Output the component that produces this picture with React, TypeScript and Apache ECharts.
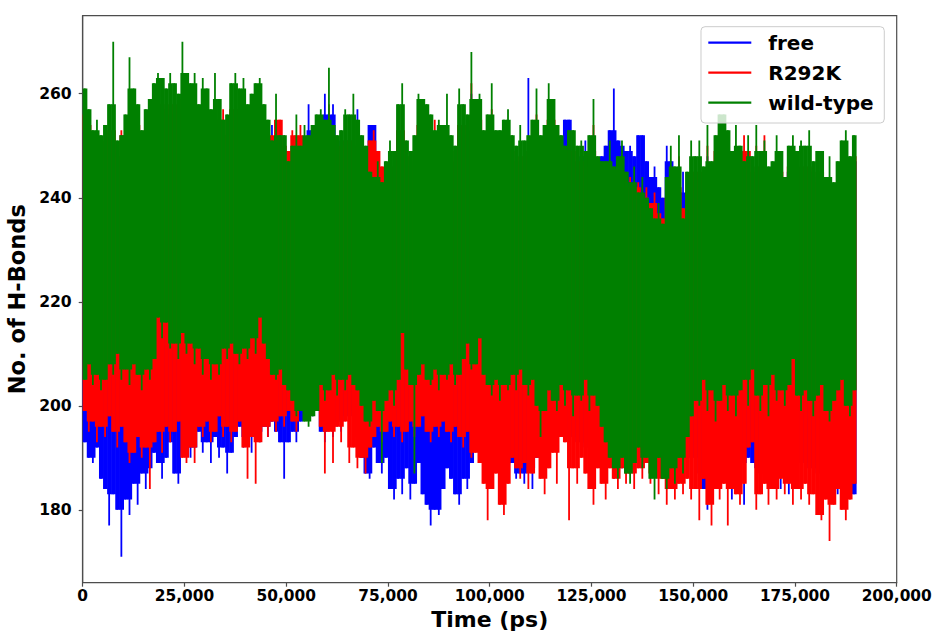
import React, { useEffect, useRef } from 'react';
import * as echarts from 'echarts';

// Sampling step of the readings (ps): one low/high reading per step
const TIME_STEP = 1000;
const xTickMax = 200000;
const xTickStep = 25000;
const yTicks = [180, 200, 220, 240, 260];
const seriesNames = ['free', 'R292K', 'wild-type'];
const seriesColors = ['#0000ff', '#ff0000', '#008000'];

// free: upper / lower envelope per 1000 ps
const freeHigh = [
  253,250,247,249,246,248,251,254,247,248,
  249,254,255,252,248,251,253,256,257,256,
  255,257,256,254,258,257,255,257,252,256,
  254,251,256,253,252,250,255,257,254,256,
  252,254,256,256,252,249,254,250,249,247,
  245,247,249,248,250,258,253,252,254,260,
  256,258,251,249,252,251,249,257,247,246,
  254,254,244,241,242,246,244,251,255,246,
  244,247,253,252,251,250,251,250,248,253,
  247,245,254,252,251,260,253,254,248,250,
  255,248,247,250,251,247,245,249,246,263,
  249,254,247,249,255,253,249,246,255,255,
  247,246,248,251,247,252,244,248,250,253,
  261,251,250,249,250,248,252,252,247,244,
  246,242,240,250,247,244,241,245,240,246,
  243,246,241,248,242,247,250,251,248,244,
  248,245,242,247,243,249,244,246,241,242,
  247,244,239,245,246,244,246,245,248,242,
  244,246,239,243,238,242,246,248,243,247,
];
const freeLow = [
  193,190,189,192,186,184,177,183,180,171,
  182,179,185,181,187,184,188,191,189,186,
  190,193,187,185,191,194,190,192,195,191,
  193,189,194,190,192,187,191,194,196,192,
  194,191,195,193,196,194,197,195,193,186,
  193,195,193,197,199,200,198,199,195,193,
  196,194,197,195,198,196,199,194,190,187,
  186,192,189,187,190,184,182,186,183,188,
  182,185,189,183,181,177,180,179,184,188,
  186,183,181,186,184,189,192,195,193,196,
  194,195,193,196,194,189,186,187,185,188,
  184,190,193,189,192,194,191,196,194,192,
  194,191,193,190,192,194,190,192,187,189,
  186,190,188,191,190,192,189,191,193,190,
  192,189,191,193,190,192,189,191,190,188,
  190,187,184,180,186,189,187,190,188,182,
  187,189,181,190,189,188,185,187,189,192,
  188,184,187,183,188,190,187,189,186,188,
  185,187,189,186,185,183,186,189,187,183,
];

// R292K
const r292kHigh = [
  256,254,250,252,249,251,253,255,248,253,
  252,255,257,254,250,253,255,258,259,258,
  257,259,258,256,261,259,258,260,255,258,
  256,253,258,255,257,252,257,259,257,258,
  254,256,258,257,254,251,252,255,255,250,
  249,253,252,254,251,249,250,252,253,251,
  258,252,249,250,253,251,250,253,248,247,
  251,253,249,246,244,248,246,253,256,248,
  246,249,255,254,253,252,255,252,250,254,
  249,247,256,254,252,262,255,256,250,252,
  257,250,249,251,253,249,247,250,248,249,
  251,256,249,250,257,255,250,248,247,249,
  249,247,248,246,249,254,245,244,243,247,
  243,245,247,242,244,242,243,240,242,239,
  241,237,236,240,246,242,248,238,241,247,
  245,247,243,250,244,249,252,252,249,246,
  250,247,252,249,245,250,246,252,243,244,
  248,245,241,246,248,245,247,246,249,243,
  245,245,241,244,240,243,247,249,244,248,
];
const r292kLow = [
  199,195,197,193,196,194,198,195,192,196,
  193,189,191,194,190,192,184,193,195,191,
  196,193,195,197,190,189,192,189,196,194,
  197,193,195,198,194,196,193,195,197,192,
  186,194,185,193,196,194,197,195,198,196,
  199,197,195,199,200,201,199,200,196,187,
  195,189,196,193,197,189,192,188,190,187,
  192,194,196,193,195,197,194,196,193,195,
  197,194,196,198,195,193,196,194,197,195,
  193,196,194,192,195,190,191,189,185,178,
  184,187,181,179,185,190,188,186,189,184,
  187,190,186,183,188,191,185,194,193,178,
  188,185,190,187,184,181,188,185,182,188,
  186,184,188,185,187,184,188,186,189,185,
  187,183,186,181,184,182,185,183,186,182,
  184,178,186,181,177,184,182,185,177,184,
  183,181,185,192,193,180,183,185,181,184,
  182,186,183,185,181,184,182,185,181,183,
  179,178,182,174,181,184,180,178,182,185,
];

// wild-type
const wildHigh = [
  261,257,253,255,252,254,258,270,251,252,
  256,267,261,258,253,257,259,262,264,263,
  261,264,262,260,270,264,262,264,258,263,
  261,257,264,259,255,256,262,264,261,263,
  258,260,262,263,258,255,251,260,252,252,
  247,250,256,250,254,252,254,256,257,255,
  265,254,252,253,257,256,260,255,252,250,
  245,244,247,243,247,251,249,258,262,251,
  249,252,260,259,258,256,253,255,254,260,
  252,250,261,258,256,268,259,260,253,256,
  262,253,253,255,257,252,250,254,251,252,
  255,261,252,254,262,259,254,252,250,253,
  253,250,251,249,252,259,248,247,247,251,
  246,248,251,245,243,246,241,244,240,238,
  236,239,235,244,250,246,252,236,245,251,
  248,251,246,254,247,252,256,256,253,249,
  254,250,247,252,248,254,249,251,246,247,
  252,249,244,250,252,249,251,250,253,247,
  249,249,244,248,243,247,251,253,248,252,
];
const wildLow = [
  205,208,204,206,203,205,208,206,210,205,
  207,204,208,206,203,207,205,209,217,213,
  216,211,212,209,214,210,212,208,211,206,
  209,205,208,206,211,209,212,210,208,211,
  209,213,210,217,212,209,206,205,207,204,
  203,201,198,199,197,196,198,199,204,201,
  203,206,202,205,203,206,204,203,200,197,
  196,201,199,189,201,203,200,205,214,207,
  204,187,206,208,205,204,207,203,206,205,
  208,204,206,209,212,207,208,213,206,204,
  202,205,201,204,203,206,203,207,204,202,
  205,200,194,199,203,201,199,204,200,203,
  198,202,201,205,199,202,200,196,193,190,
  188,186,190,187,185,189,192,188,190,186,
  182,190,186,184,188,185,190,187,194,198,
  201,200,205,199,203,197,201,204,199,202,
  198,203,205,200,207,202,199,204,198,206,
  201,203,200,204,209,202,199,203,201,198,
  202,204,199,197,201,203,205,200,198,203,
];

const FONT = 'DejaVu Sans';
const INK = '#4d4d4d';

function rows(high: number[], low: number[]) {
  return high.map((h, i) => [i * TIME_STEP + TIME_STEP / 2, low[i], h]);
}

function fmt(v: number) {
  return String(v).replace(/\B(?=(\d{3})+(?!\d))/g, ',');
}

export default function App() {
  const ref = useRef<HTMLDivElement>(null);
  useEffect(() => {
    if (!ref.current) return;
    const chart = echarts.init(ref.current, null, { renderer: 'svg' });
    const data = [rows(freeHigh, freeLow), rows(r292kHigh, r292kLow), rows(wildHigh, wildLow)];
    const option: any = {
      animation: false,
      backgroundColor: '#ffffff',
      grid: {
        left: 82.7, top: 15.7, right: 39.3, bottom: 49.3,
        containLabel: false, outerBoundsMode: 'none',
        show: true, borderColor: INK, borderWidth: 1.2, backgroundColor: 'transparent',
      },
      legend: {
        orient: 'vertical', left: 701, top: 26.7,
        padding: [6, 10.7, 10.3, 7.3],
        itemWidth: 43, itemHeight: 2.2, itemGap: 10, icon: 'rect',
        backgroundColor: 'rgba(255,255,255,0.8)', borderColor: '#cccccc', borderWidth: 1, borderRadius: 4,
        textStyle: { fontFamily: FONT, fontWeight: 'bold', fontSize: 20, color: '#000', lineHeight: 20, padding: [0, 0, 0, 12] },
        data: seriesNames,
      },
      xAxis: {
        type: 'value', min: 0, max: xTickMax, interval: xTickStep,
        axisLine: { show: true, lineStyle: { color: INK, width: 1.2 } },
        axisTick: { show: true, length: 4, lineStyle: { color: INK, width: 1.2 } },
        splitLine: { show: false },
        axisLabel: { formatter: (v: number) => fmt(v), fontFamily: FONT, fontWeight: 'bold', fontSize: 15.4, color: '#000', margin: 6 },
        name: 'Time (ps)', nameLocation: 'middle', nameGap: 24,
        nameTextStyle: { fontFamily: FONT, fontWeight: 'bold', fontSize: 22, color: '#000' },
      },
      yAxis: {
        type: 'value', min: 166, max: 275,
        axisLine: { show: true, lineStyle: { color: INK, width: 1.2 } },
        axisTick: { show: true, length: 4, customValues: yTicks, lineStyle: { color: INK, width: 1.2 } },
        splitLine: { show: false },
        axisLabel: { customValues: yTicks, fontFamily: FONT, fontWeight: 'bold', fontSize: 15.6, color: '#000', margin: 11 },
        name: 'No. of H-Bonds', nameLocation: 'middle', nameGap: 39,
        nameTextStyle: { fontFamily: FONT, fontWeight: 'bold', fontSize: 22.5, color: '#000' },
      },
      series: seriesNames.map((name, k) => ({
        type: 'custom', name, data: data[k], clip: true,
        itemStyle: { color: seriesColors[k] },
        encode: { x: 0, y: [1, 2] },
        renderItem: (params: any, api: any) => {
          const rowsK = data[k];
          const idx = params.dataIndex;
          const t = api.value(0), lo = api.value(1), hi = api.value(2);
          const prev = rowsK[Math.max(0, idx - 1)];
          const next = rowsK[Math.min(rowsK.length - 1, idx + 1)];
          // a local extreme is drawn as a thin stroke, the rest as a full-width block
          const coreHi = Math.min(hi, Math.max(prev[2], next[2]));
          const coreLo = Math.max(lo, Math.min(prev[1], next[1]));
          const color = api.visual('color');
          const a = api.coord([t - TIME_STEP / 2, coreHi]);
          const b = api.coord([t + TIME_STEP / 2, coreLo]);
          const top = api.coord([t, hi]);
          const bot = api.coord([t, lo]);
          return {
            type: 'group',
            children: [
              {
                type: 'rect',
                shape: { x: a[0], y: a[1], width: b[0] - a[0] + 0.6, height: Math.max(0, b[1] - a[1]) },
                style: { fill: color },
              },
              {
                type: 'rect',
                shape: { x: top[0] - 0.9, y: top[1], width: 1.8, height: bot[1] - top[1] },
                style: { fill: color },
              },
            ],
          };
        },
      })),
    };
    chart.setOption(option);
    return () => chart.dispose();
  }, []);
  return <div ref={ref} style={{ position: 'absolute', left: 0, top: 0, width: 936, height: 632 }} />;
}
